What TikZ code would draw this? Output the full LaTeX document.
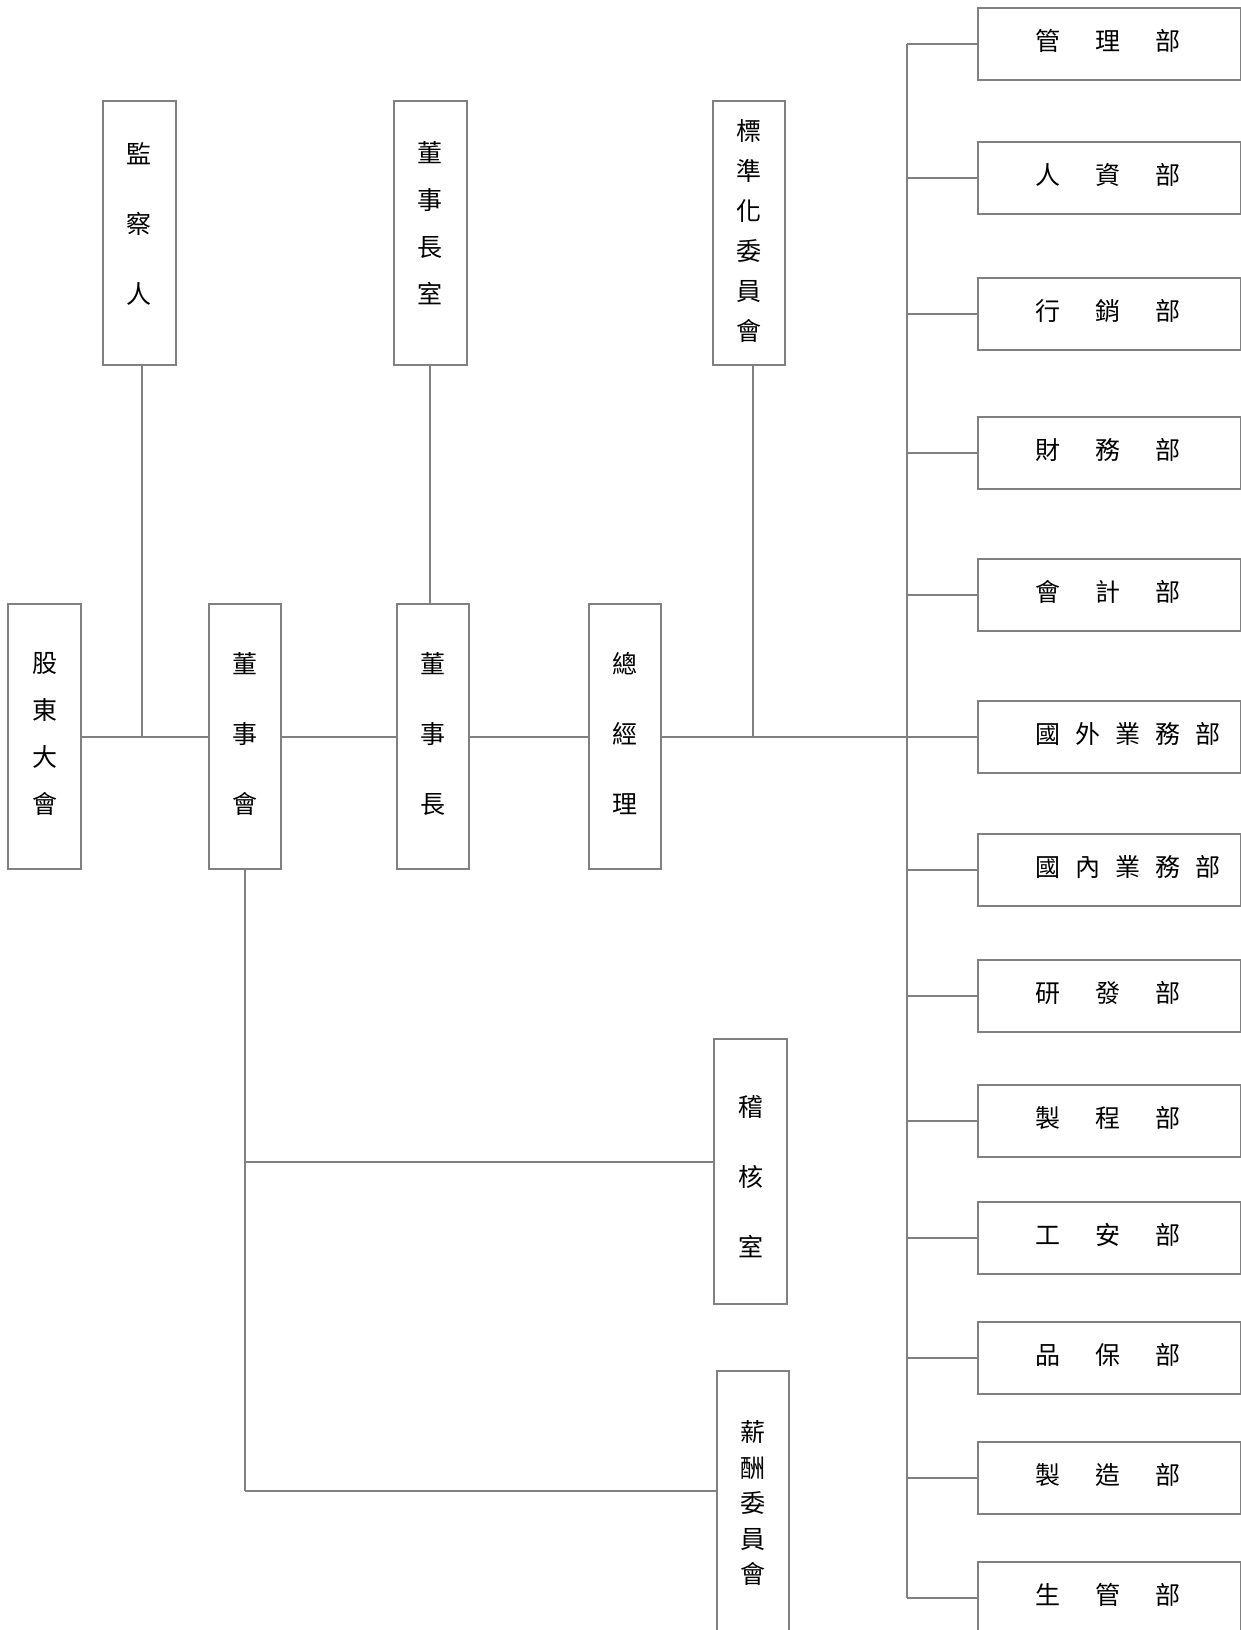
\documentclass[tikz,border=0pt]{standalone}
\usepackage{fontspec}
\newfontfamily\cjk{Noto Sans CJK TC}
\definecolor{linegray}{RGB}{128,128,128}
\newcommand\lowstrut[1]{\rule[-#1]{0pt}{0pt}}
\newcommand\highstrut[1]{\rule{0pt}{#1}}
\begin{document}
\begin{tikzpicture}[x=1pt,y=-1pt,
  box/.style={draw=linegray, line width=2pt, fill=white, inner sep=0pt, text=black},
  vbox/.style={box, minimum width=72.6pt, minimum height=264.5pt, align=center},
  vs/.style={font=\cjk\fontsize{25pt}{#1pt}\selectfont},
  dept/.style={box, minimum height=72pt, text width=263pt, align=left, anchor=west,
    font=\cjk\fontsize{25pt}{30pt}\selectfont},
  conn/.style={draw=linegray, line width=2pt}]
\useasboundingbox (0,0) rectangle (1241,1630);
% main row
\node[vbox, vs=47] (gdh) at (44.7,736.5) {股\\東\\大\\會\lowstrut{8pt}};
\node[vbox, vs=70] (dsh) at (245,736.5) {董\\事\\會\lowstrut{8pt}};
\node[vbox, vs=70] (dsz) at (433,736.5) {董\\事\\長\lowstrut{8pt}};
\node[vbox, vs=70] (zjl) at (625,736.5) {總\\經\\理\lowstrut{8pt}};
% top row
\node[vbox, vs=70] (jcr) at (139.2,232.8) {監\\察\\人\lowstrut{20pt}};
\node[vbox, vs=47] (dszs) at (430.3,232.8) {董\\事\\長\\室\lowstrut{20pt}};
\node[vbox, vs=40] (bzh) at (748.8,232.8) {標\\準\\化\\委\\員\\會\lowstrut{6pt}};
% bottom
\node[vbox, vs=70] (jhs) at (750.7,1171.7) {\highstrut{30pt}稽\\核\\室};
\node[vbox, vs=35.5] (xc) at (753,1503) {薪\\酬\\委\\員\\會};
% departments
\def\gapA{\hspace{35pt}}
\def\gapB{\hspace{15pt}}
\def\ds{\lowstrut{8pt}}
\node[dept] (d1) at (977,43.5) {\hspace*{57pt}管\gapA 理\gapA 部\ds};
\node[dept] (d2) at (977,177.5) {\hspace*{57pt}人\gapA 資\gapA 部\ds};
\node[dept] (d3) at (977,313.5) {\hspace*{57pt}行\gapA 銷\gapA 部\ds};
\node[dept] (d4) at (977,453) {\hspace*{57pt}財\gapA 務\gapA 部\ds};
\node[dept] (d5) at (977,595) {\hspace*{57pt}會\gapA 計\gapA 部\ds};
\node[dept] (d6) at (977,736.5) {\hspace*{57pt}國\gapB 外\gapB 業\gapB 務\gapB 部\ds};
\node[dept] (d7) at (977,870) {\hspace*{57pt}國\gapB 內\gapB 業\gapB 務\gapB 部\ds};
\node[dept] (d8) at (977,996) {\hspace*{57pt}研\gapA 發\gapA 部\ds};
\node[dept] (d9) at (977,1120.5) {\hspace*{57pt}製\gapA 程\gapA 部\ds};
\node[dept] (d10) at (977,1238) {\hspace*{57pt}工\gapA 安\gapA 部\ds};
\node[dept] (d11) at (977,1358) {\hspace*{57pt}品\gapA 保\gapA 部\ds};
\node[dept] (d12) at (977,1478) {\hspace*{57pt}製\gapA 造\gapA 部\ds};
\node[dept] (d13) at (977,1598) {\hspace*{57pt}生\gapA 管\gapA 部\ds};
% connectors
\draw[conn] (gdh.east) -- (dsh.west);
\draw[conn] ([xshift=3pt]jcr.south) -- ([xshift=3pt]jcr.south |- gdh.east);
\draw[conn] (dsh.east) -- (dsz.west);
\draw[conn] (dszs.south) -- (dszs.south |- dsz.north);
\draw[conn] (dsz.east) -- (zjl.west);
\draw[conn] (zjl.east) -- (d6.west);
\draw[conn] ([xshift=4pt]bzh.south) -- ([xshift=4pt]bzh.south |- zjl.east);
\coordinate (bus) at (907,0);
\draw[conn] (bus |- d1.west) -- (bus |- d13.west);
\foreach \i in {1,...,13}{\draw[conn] (bus |- d\i.west) -- (d\i.west);}
\coordinate (jhsin) at ([yshift=10pt]jhs.west);
\coordinate (xcin) at ([yshift=12pt]xc.west);
\draw[conn] (dsh.south) -- (dsh.south |- xcin);
\draw[conn] (dsh.south |- jhsin) -- (jhsin);
\draw[conn] (dsh.south |- xcin) -- (xcin);
\end{tikzpicture}
\end{document}
